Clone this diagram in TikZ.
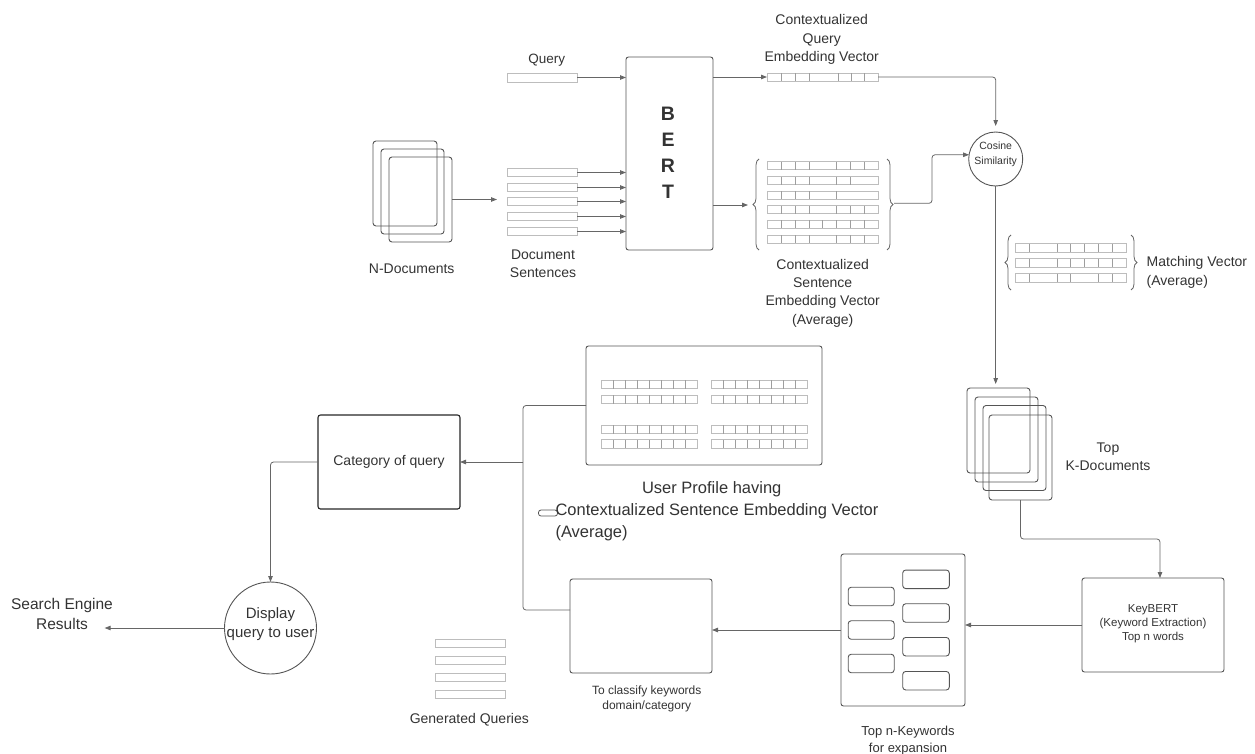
\documentclass[tikz,border=0pt]{standalone}
\usepackage{fontspec}
\setmainfont{Liberation Sans}
\usetikzlibrary{arrows.meta,calc,decorations.pathreplacing}
\definecolor{txt}{HTML}{333333}
\definecolor{ln}{HTML}{666666}
\definecolor{bx}{HTML}{555555}
\definecolor{vc}{HTML}{BDBDBD}
\definecolor{vd}{HTML}{9E9E9E}
\newcommand\myfs[2]{\fontsize{#1}{#2}\selectfont}
\newcommand\myvbar[5]{\draw[vecs] (#1,#2) rectangle (#3,#4); \foreach \dv in {#5} {\draw[vecd] (\dv,#2) -- (\dv,#4);}}
\begin{document}
\begin{tikzpicture}[x=1pt,y=-1pt,
  every node/.style={text=txt, inner sep=0pt, outer sep=0pt},
  box/.style={draw=bx, line width=0.9pt, rounded corners=2.5pt},
  doc/.style={box, rounded corners=3pt, minimum width=63pt, minimum height=85pt},
  kwbox/.style={box, rounded corners=3pt, minimum width=46pt, minimum height=18.5pt},
  conn/.style={draw=ln, line width=0.8pt, rounded corners=3pt},
  arr/.style={conn, -{Triangle[length=6pt,width=4.5pt]}},
  vecs/.style={draw=vc, line width=0.7pt},
  vecd/.style={draw=vd, line width=0.7pt},
  sbar/.style={draw=vc, line width=0.7pt, minimum width=70pt, minimum height=8.5pt},
  lbl/.style={font=\myfs{14}{18.3}, align=center},
  brc/.style={draw=ln, line width=0.8pt, decorate, decoration={brace, amplitude=6pt}},
]
\useasboundingbox (0,0) rectangle (1255,753);

% ---------- N-Documents ----------
\node[doc, minimum width=64pt] (nd1) at (405,183.5) {};
\node[doc] (nd2) at (412.5,191.5) {};
\node[doc] (nd3) at (420.5,199.5) {};
\node[lbl] (ndl) at (411.7,268.7) {N-Documents};
\coordinate (dsin) at (497,199.5);
\draw[arr] (nd3.east) -- (dsin);

% ---------- Query & sentences ----------
\node[font=\myfs{13.5}{16}] (ql) at (546.7,60) {Query};
\node[sbar, minimum height=9pt] (qbar) at (542,77.5) {};
\foreach \y [count=\i] in {172.5,187.5,201.5,216.5,231.5}
  \node[sbar] (ds\i) at (542,\y) {};
\node[lbl] (dsl) at (543,264) {Document\\Sentences};

% ---------- BERT ----------
\node[box, minimum width=87pt, minimum height=193pt] (bert) at (669.5,153.5) {};
\node[font=\myfs{19.5}{26}\bfseries, align=center] (bertt) at (668,153) {B\\E\\R\\T};
\draw[arr] (qbar.east) -- (qbar.east -| bert.west);
\foreach \i in {1,...,5}
  \draw[arr] (ds\i.east) -- (ds\i.east -| bert.west);

% ---------- Query embedding ----------
\node[minimum width=111pt, minimum height=8pt] (qv) at (822.5,77) {};
\myvbar{767}{73}{878}{81}{781,795,809,838,851,864}
\node[lbl] (qvl) at (821.7,39.5) {Contextualized\\Query\\Embedding Vector};
\draw[arr] (bert.east |- qv.west) -- (qv.west);

% ---------- Cosine ----------
\node[circle, draw=bx, line width=0.9pt, minimum size=54pt] (cos) at (995.7,159) {};
\node[font=\myfs{10.5}{15}, align=center] (cost) at (995.7,154.5) {Cosine\\Similarity};
\draw[arr, shorten >=6pt] (qv.east) -| (cos.north);

% ---------- Sentence embeddings ----------
\myvbar{767}{161.5}{878}{169.5}{781,795,809,836.5,850.5,864.3}
\myvbar{767}{176.5}{878}{184.5}{781,795,809,836.5,850.5}
\myvbar{767}{191}{878}{199}{781,795,809,836.5}
\myvbar{767}{205.5}{878}{213.5}{781,795,809,836.5,850.5,864.3}
\myvbar{767}{220}{878}{228}{781,795,809,822.7,836.5,850.5,864.3}
\myvbar{767}{235}{878}{243}{781,795,809,836.5,850.5,864.3}
\draw[brc] (759,250) -- (759,159);
\draw[brc] (887,159) -- (887,250);
\coordinate (lbr) at (748,205);
\coordinate (rbr) at (894,203.3);
\draw[arr] (bert.east |- lbr) -- (lbr);
\draw[arr] (rbr) -- (932,203.3) |- (cos.171);
\node[lbl] (svl) at (822.7,293) {Contextualized\\Sentence\\Embedding Vector\\(Average)};

% ---------- Matching vector ----------
\myvbar{1015}{243.5}{1126}{252}{1029.3,1057.3,1070.7,1084.3,1098.3,1112.3}
\myvbar{1015}{258.5}{1126}{267}{1029.3,1057.3,1070.7,1084.3,1098.3,1112.3}
\myvbar{1015}{273.5}{1126}{282}{1029.3,1057.3,1070.7,1098.3,1112.3}
\draw[brc] (1011,290) -- (1011,235);
\draw[brc] (1131,235) -- (1131,290);
\node[lbl, anchor=west, align=left] (mvl) at (1146.7,272.5) {Matching Vector\\(Average)};

% ---------- Top K documents ----------
\node[doc] (tk1) at (998.5,430.5) {};
\node[doc] (tk2) at (1006.5,439.5) {};
\node[doc] (tk3) at (1014.5,448) {};
\node[doc] (tk4) at (1020.5,457.5) {};
\node[lbl] (tkl) at (1108,457) {Top\\K-Documents};
\draw[arr, shorten >=4pt] (cos.south) -- (cos.south |- tk1.north);

% ---------- KeyBERT ----------
\node[box, minimum width=142pt, minimum height=94pt] (kb) at (1153,625) {};
\node[font=\myfs{11.5}{14}, align=center] (kbt) at (1153,623.5) {KeyBERT\\(Keyword Extraction)\\Top n words};
\draw[arr] (tk4.south) |- ($(kb.north)+(7,-39)$) -- ($(kb.north)+(7,0)$);

% ---------- Keywords ----------
\node[box, minimum width=124pt, minimum height=152pt] (kw) at (903,630) {};
\foreach \y [count=\i] in {596.5,630,663.5}
  \node[kwbox] (kl\i) at (871.2,\y) {};
\foreach \y [count=\i] in {579.3,613,646.7,680.7}
  \node[kwbox, minimum width=46.6pt] (kr\i) at (926,\y) {};
\node[font=\myfs{13}{17.6}, align=center] (kwl) at (908,740.5) {Top n-Keywords\\for expansion};
\draw[arr] (kb.west) -- (kb.west -| kw.east);

% ---------- Classify ----------
\node[box, minimum width=142pt, minimum height=94pt] (cls) at (641,626) {};
\node[font=\myfs{12}{15}, align=center] (clsl) at (646.7,699.2) {To classify keywords\\domain/category};
\draw[arr] (kw.west) -- (kw.west -| cls.east);

% ---------- Generated queries ----------
\foreach \y [count=\i] in {643.3,660.2,677.5,694.7}
  \node[sbar, minimum width=70.4pt, minimum height=8.2pt] (gq\i) at (470.2,\y) {};
\node[lbl] (gql) at (469.3,719.3) {Generated Queries};

% ---------- User profile ----------
\node[box, minimum width=236pt, minimum height=119pt] (prof) at (704,405.5) {};
\foreach \x in {601.7,711.7}
  \foreach \y in {380,395,425,439.5} {
    \draw[vecs] (\x,\y) rectangle ++(95.5,8.5);
    \foreach \i in {1,...,7} \draw[vecd] ({\x+\i*11.94},\y) -- ++(0,8.5);
  }
\node[font=\myfs{16.5}{22}] (pl1) at (711.7,489.3) {User Profile having};
\draw[draw=bx, line width=0.8pt, rounded corners=2.5pt] (538.5,510) rectangle (557.5,516);
\node[font=\myfs{16.5}{22}, anchor=west] (pl2) at (555.5,511.5) {Contextualized Sentence Embedding Vector};
\node[font=\myfs{16.5}{22}, anchor=west] (pl3) at (555.5,533.3) {(Average)};

% ---------- Category ----------
\node[box, draw=black!85, line width=1.1pt, minimum width=142pt, minimum height=94pt, font=\myfs{14}{17}] (cat) at (389,462) {Category of query};
\coordinate (junc) at (523,462);
\draw[conn] (prof.west) -| (junc);
\draw[conn] ($(cls.west)+(0,-16)$) -| (junc);
\draw[arr] (junc) -- (cat.east);

% ---------- Display ----------
\node[circle, draw=bx, line width=0.9pt, minimum size=92pt] (disp) at (270.5,628) {};
\node[font=\myfs{15}{19}, align=center] (dispt) at (270.5,624) {Display\\query to user};
\draw[arr] (cat.west) -| (disp.north);
\coordinate (ser) at (104.6,628);
\draw[arr] (disp.west) -- (ser);
\node[font=\myfs{15.5}{20}, align=center] (serl) at (62,614) {Search Engine\\Results};
\end{tikzpicture}
\end{document}
